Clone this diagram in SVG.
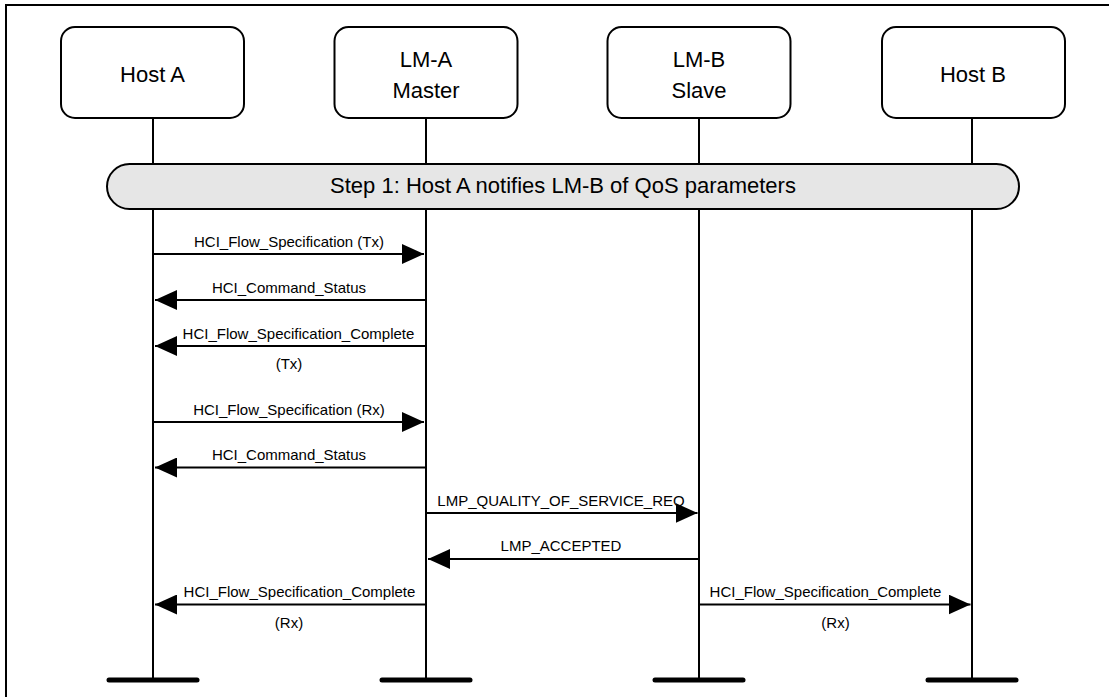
<svg xmlns="http://www.w3.org/2000/svg" width="1109" height="697" viewBox="0 0 1109 697">
<style>
.box{fill:#fff;stroke:#000;stroke-width:2}
.bt{font-family:"Liberation Sans",Arial,sans-serif;font-size:22px;fill:#000;text-anchor:middle}
.life{stroke:#000;stroke-width:2;fill:none}
.foot{stroke:#000;stroke-width:5;stroke-linecap:round}
.msg{stroke:#000;stroke-width:2;fill:none;marker-end:url(#ah)}
.lb{font-family:"Liberation Sans",Arial,sans-serif;font-size:15px;fill:#000;text-anchor:middle}
.banner{fill:#e6e6e6;stroke:#000;stroke-width:2}
</style>
<defs>
<marker id="ah" markerUnits="userSpaceOnUse" markerWidth="22" markerHeight="20" refX="22" refY="10" orient="auto" viewBox="0 0 22 20">
<path d="M0,0 L22,10 L0,20 Z" fill="#000"/>
</marker>
</defs>
<rect width="1109" height="697" fill="#fff"/>
<path d="M6,697 V5 H1109" fill="none" stroke="#000" stroke-width="2"/>
<g id="lifelines">
<line class="life" x1="153" y1="118" x2="153" y2="680"/>
<line class="life" x1="426" y1="118" x2="426" y2="680"/>
<line class="life" x1="699" y1="118" x2="699" y2="680"/>
<line class="life" x1="972" y1="118" x2="972" y2="680"/>
<line class="foot" x1="109" y1="680" x2="197" y2="680"/>
<line class="foot" x1="382" y1="680" x2="470" y2="680"/>
<line class="foot" x1="655" y1="680" x2="743" y2="680"/>
<line class="foot" x1="928" y1="680" x2="1016" y2="680"/>
</g>
<g id="hostA">
<rect class="box" x="61" y="27" width="183" height="91" rx="14"/>
<text class="bt" x="152.5" y="81.5">Host A</text>
</g>
<g id="lmA">
<rect class="box" x="334.5" y="27" width="183" height="91" rx="14"/>
<text class="bt" x="426" y="66.5">LM-A</text>
<text class="bt" x="426" y="97.5">Master</text>
</g>
<g id="lmB">
<rect class="box" x="607.5" y="27" width="183" height="91" rx="14"/>
<text class="bt" x="699" y="66.5">LM-B</text>
<text class="bt" x="699" y="97.5">Slave</text>
</g>
<g id="hostB">
<rect class="box" x="882" y="27" width="183" height="91" rx="14"/>
<text class="bt" x="973" y="81.5">Host B</text>
</g>
<g id="step1">
<rect class="banner" x="107" y="164" width="912" height="45" rx="22.5"/>
<text class="bt" x="563" y="192.5">Step 1: Host A notifies LM-B of QoS parameters</text>
</g>
<g id="connectors">
<line class="msg" x1="153" y1="254" x2="424" y2="254"/>
<text class="lb" x="289" y="247">HCI_Flow_Specification (Tx)</text>
<line class="msg" x1="426" y1="300" x2="155" y2="300"/>
<text class="lb" x="289" y="292.5">HCI_Command_Status</text>
<line class="msg" x1="426" y1="346" x2="155" y2="346"/>
<text class="lb" x="298.5" y="338.5">HCI_Flow_Specification_Complete</text>
<text class="lb" x="289" y="369">(Tx)</text>
<line class="msg" x1="153" y1="422" x2="424" y2="422"/>
<text class="lb" x="289" y="414.5">HCI_Flow_Specification (Rx)</text>
<line class="msg" x1="426" y1="467.5" x2="155" y2="467.5"/>
<text class="lb" x="289" y="460">HCI_Command_Status</text>
<line class="msg" x1="426" y1="513" x2="697.5" y2="513"/>
<text class="lb" x="561" y="505.5">LMP_QUALITY_OF_SERVICE_REQ</text>
<line class="msg" x1="699" y1="559" x2="428" y2="559"/>
<text class="lb" x="561" y="551">LMP_ACCEPTED</text>
<line class="msg" x1="426" y1="604.5" x2="155" y2="604.5"/>
<text class="lb" x="299.5" y="597">HCI_Flow_Specification_Complete</text>
<text class="lb" x="289" y="627.5">(Rx)</text>
<line class="msg" x1="699" y1="604.5" x2="970.5" y2="604.5"/>
<text class="lb" x="825.5" y="597">HCI_Flow_Specification_Complete</text>
<text class="lb" x="835.5" y="627.5">(Rx)</text>
</g>
</svg>
